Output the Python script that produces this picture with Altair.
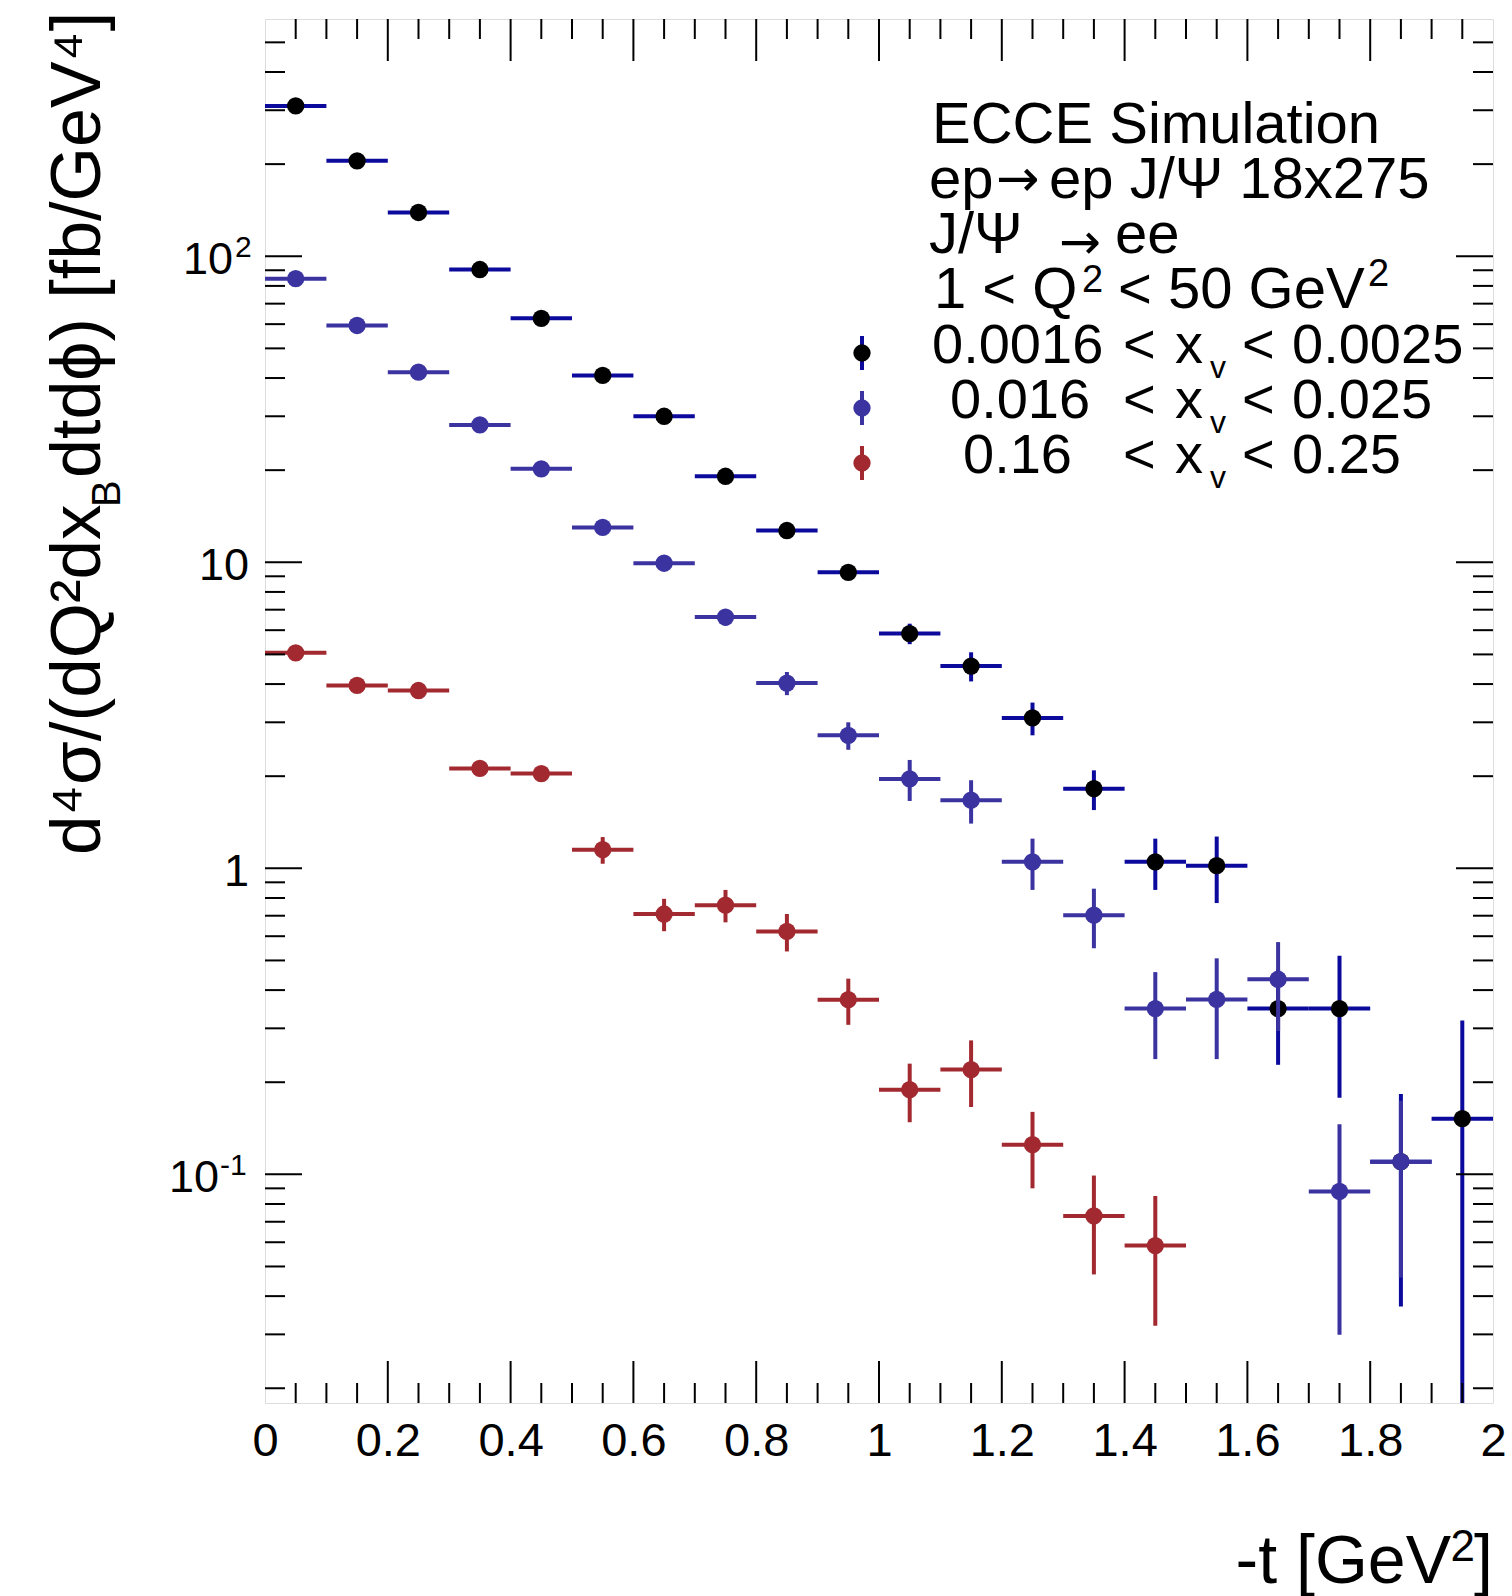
import altair as alt
import pandas as pd

FONT = "Liberation Sans"
ARROW_FONT = "DejaVu Sans"

# ---------------- data ----------------
t_black = [0.05, 0.15, 0.25, 0.35, 0.45, 0.55, 0.65, 0.75, 0.85, 0.95,
           1.05, 1.15, 1.25, 1.35, 1.45, 1.55, 1.65, 1.75, 1.85, 1.95]
y_black = [310, 205, 139, 90.5, 62.7, 40.8, 30.0, 19.1, 12.7, 9.27,
           5.85, 4.58, 3.10, 1.82, 1.05, 1.02, 0.348, 0.348, 0.110, 0.152]
e_black = [4.0, 3.0, 2.5, 1.8, 1.5, 1.2, 1.0, 0.8, 0.6, 0.5,
           0.45, 0.5, 0.38, 0.27, 0.2, 0.25, 0.12, 0.17, 0.073, 0.166]

t_blue = [0.05, 0.15, 0.25, 0.35, 0.45, 0.55, 0.65, 0.75, 0.85, 0.95,
          1.05, 1.15, 1.25, 1.35, 1.45, 1.55, 1.65, 1.75, 1.85]
y_blue = [84.5, 59.4, 41.8, 28.1, 20.2, 13.0, 9.93, 6.62, 4.03, 2.72,
          1.96, 1.67, 1.05, 0.703, 0.348, 0.373, 0.434, 0.0879, 0.110]
e_blue = [2.0, 1.6, 1.3, 1.0, 0.8, 0.6, 0.5, 0.42, 0.35, 0.28,
          0.3, 0.27, 0.2, 0.155, 0.11, 0.135, 0.14, 0.058, 0.064]

t_red = [0.05, 0.15, 0.25, 0.35, 0.45, 0.55, 0.65, 0.75, 0.85, 0.95,
         1.05, 1.15, 1.25, 1.35, 1.45]
y_red = [5.06, 3.96, 3.81, 2.12, 2.04, 1.15, 0.709, 0.758, 0.622, 0.372,
         0.189, 0.220, 0.125, 0.0731, 0.0585]
e_red = [0.15, 0.12, 0.12, 0.08, 0.08, 0.115, 0.086, 0.092, 0.087, 0.064,
         0.041, 0.054, 0.035, 0.026, 0.0265]

bin_half = 0.05

title_line = "ECCE Simulation"
lo_labels = ["0.0016", "0.016", "0.16"]
hi_labels = ["0.0025", "0.025", "0.25"]

x_major = [0.2, 0.4, 0.6, 0.8, 1.0, 1.2, 1.4, 1.6, 1.8]
x_minor = [0.05, 0.1, 0.15, 0.25, 0.3, 0.35, 0.45, 0.5, 0.55, 0.65, 0.7, 0.75,
           0.85, 0.9, 0.95, 1.05, 1.1, 1.15, 1.25, 1.3, 1.35, 1.45, 1.5, 1.55,
           1.65, 1.7, 1.75, 1.85, 1.9, 1.95]
y_major = [0.1, 1, 10, 100]
y_minor = [0.02, 0.03, 0.04, 0.05, 0.06, 0.07, 0.08, 0.09,
           0.2, 0.3, 0.4, 0.5, 0.6, 0.7, 0.8, 0.9,
           2, 3, 4, 5, 6, 7, 8, 9,
           20, 30, 40, 50, 60, 70, 80, 90,
           200, 300, 400, 500]
x_label_values = [0, 0.2, 0.4, 0.6, 0.8, 1.0, 1.2, 1.4, 1.6, 1.8, 2.0]
y_label_base = ["10", "1", "10", "10"]
y_label_sup = ["-1", "", "", "2"]

# ---------------- layout / style ----------------
W, H = 1228, 1384
NAVY = "#0b0a9c"
SLATE = "#3a33a0"
RED = "#a2292f"
TXT = 56
HDR = 58

x_scale = alt.Scale(domain=[0, 2], nice=False, zero=False)
y_scale = alt.Scale(type="log", domain=[0.0179, 596], nice=False)

x_axis = alt.Axis(values=x_label_values, labelExpr="format(datum.value, '~g')",
                  ticks=False, domain=False, grid=False, labelFontSize=47,
                  labelFont=FONT, labelColor="black", labelPadding=15,
                  labelFlush=False, labelOverlap=False, title=None)
y_axis = alt.Axis(labels=False, ticks=False, domain=False, grid=False, title=None)


def X(field):
    return alt.X(field, type="quantitative", scale=x_scale, axis=x_axis)


def Y(field):
    return alt.Y(field, type="quantitative", scale=y_scale, axis=y_axis)


def series_layers(t, y, e, line_color, marker_color):
    df = pd.DataFrame({"t": t, "y": y, "err": e})
    base = alt.Chart(df).transform_calculate(
        x0=f"datum.t - {bin_half}", x1=f"datum.t + {bin_half}",
        lo="max(datum.y - datum.err, 0.0001)", hi="datum.y + datum.err")
    hbar = base.mark_rule(strokeWidth=4, color=line_color, clip=True).encode(
        x=X("x0"), x2="x1:Q", y=Y("y"))
    vbar = base.mark_rule(strokeWidth=4, color=line_color, clip=True).encode(
        x=X("t"), y=Y("lo"), y2="hi:Q")
    pts = base.mark_circle(size=300, color=marker_color, opacity=1, clip=True).encode(
        x=X("t"), y=Y("y"))
    return [hbar, vbar, pts]


def tick_layers():
    out = []
    for vals, ln in ((x_major, 42), (x_minor, 20)):
        d = alt.Chart(pd.DataFrame({"v": vals}))
        out.append(d.mark_rule(color="black", strokeWidth=2).encode(
            x=X("v"), y=alt.value(H), y2=alt.value(H - ln)))
        out.append(d.mark_rule(color="black", strokeWidth=2).encode(
            x=X("v"), y=alt.value(0), y2=alt.value(ln)))
    for vals, ln in ((y_major, 37), (y_minor, 20)):
        d = alt.Chart(pd.DataFrame({"v": vals}))
        out.append(d.mark_rule(color="black", strokeWidth=2).encode(
            y=Y("v"), x=alt.value(0), x2=alt.value(ln)))
        out.append(d.mark_rule(color="black", strokeWidth=2).encode(
            y=Y("v"), x=alt.value(W), x2=alt.value(W - ln)))
    return out


def ylabel_layers():
    out = []
    base_right = [-46, -16, -16, -32]
    sup_left = [-45, 0, 0, -30]
    for i, v in enumerate(y_major):
        d = alt.Chart(pd.DataFrame({"v": [v], "s": [y_label_base[i]],
                                    "p": [y_label_sup[i]]}))
        out.append(d.mark_text(align="right", baseline="middle", fontSize=45,
                               font=FONT, color="black", dy=4).encode(
            y=Y("v"), x=alt.value(base_right[i]), text="s:N"))
        if y_label_sup[i]:
            out.append(d.mark_text(align="left", baseline="alphabetic", fontSize=30,
                                   font=FONT, color="black", dy=1).encode(
                y=Y("v"), x=alt.value(sup_left[i]), text="p:N"))
    return out


def txt(s, x, y, size, align="left", angle=0, font=FONT):
    return alt.Chart(pd.DataFrame({"s": [s]})).mark_text(
        align=align, baseline="alphabetic", fontSize=size, angle=angle,
        font=font, color="black").encode(
        text="s:N", x=alt.value(x), y=alt.value(y))


def glyph(cx, cy, line_color, marker_color):
    d = alt.Chart(pd.DataFrame({"k": [0]}))
    bar = d.mark_rule(strokeWidth=4, color=line_color).encode(
        x=alt.value(cx), y=alt.value(cy - 17), y2=alt.value(cy + 17))
    pt = d.mark_circle(size=300, color=marker_color, opacity=1).encode(
        x=alt.value(cx), y=alt.value(cy))
    return [bar, pt]


layers = []
layers += series_layers(t_black, y_black, e_black, NAVY, "black")
layers += series_layers(t_blue, y_blue, e_blue, SLATE, SLATE)
layers += series_layers(t_red, y_red, e_red, RED, RED)
layers += tick_layers()
layers += ylabel_layers()

# header text
layers.append(txt(title_line, 667, 124, HDR))
layers.append(txt("ep", 664, 179, HDR))
layers.append(txt("\u2192", 731, 177, 52, font=ARROW_FONT))
layers.append(txt("ep J/\u03a8 18x275", 784, 179, HDR))
layers.append(txt("J/\u03a8", 664, 234, HDR))
layers.append(txt("\u2192", 794, 240, 50, font=ARROW_FONT))
layers.append(txt("ee", 850, 234, HDR))
layers.append(txt("1 < Q", 669, 289, HDR))
layers.append(txt("2", 817, 273, 38))
layers.append(txt("< 50 GeV", 853, 289, HDR))
layers.append(txt("2", 1103, 267, 38))

# legend rows
lo_x = [667, 685, 698]
glyph_cols = [(NAVY, "black"), (SLATE, SLATE), (RED, RED)]
for i in range(3):
    base_y = 344 + 55 * i
    layers.append(txt(lo_labels[i], lo_x[i], base_y, TXT))
    layers.append(txt("<", 858, base_y, TXT))
    layers.append(txt("x", 910, base_y, TXT))
    layers.append(txt("v", 945, base_y + 15, 32))
    layers.append(txt("<", 977, base_y, TXT))
    layers.append(txt(hi_labels[i], 1027, base_y, TXT))
    layers += glyph(597, 334 + 55 * i, *glyph_cols[i])

# y-axis title, built from pieces (rotated)
layers.append(txt("d\u2074\u03c3/(dQ\u00b2dx", -165, 836, 71, angle=270))
layers.append(txt("B", -145, 488, 40, angle=270))
layers.append(txt("dtd\u03d5) [fb/GeV\u2074]", -165, 459, 70, angle=270))

# x-axis title pieces
layers.append(txt("-t [GeV", 1186, 1564, 68, align="right"))
layers.append(txt("2", 1210, 1542, 44, align="right"))
layers.append(txt("]", W, 1564, 68, align="right"))

chart = alt.layer(*layers).properties(
    width=W, height=H,
    autosize=alt.AutoSizeParams(type="none"),
    padding={"left": 265, "top": 19, "right": 19, "bottom": 193},
    background="white",
).configure_view(stroke="black", strokeWidth=2.5).configure(font=FONT)

chart.save("out.html", embed_options={"renderer": "svg", "actions": False})
